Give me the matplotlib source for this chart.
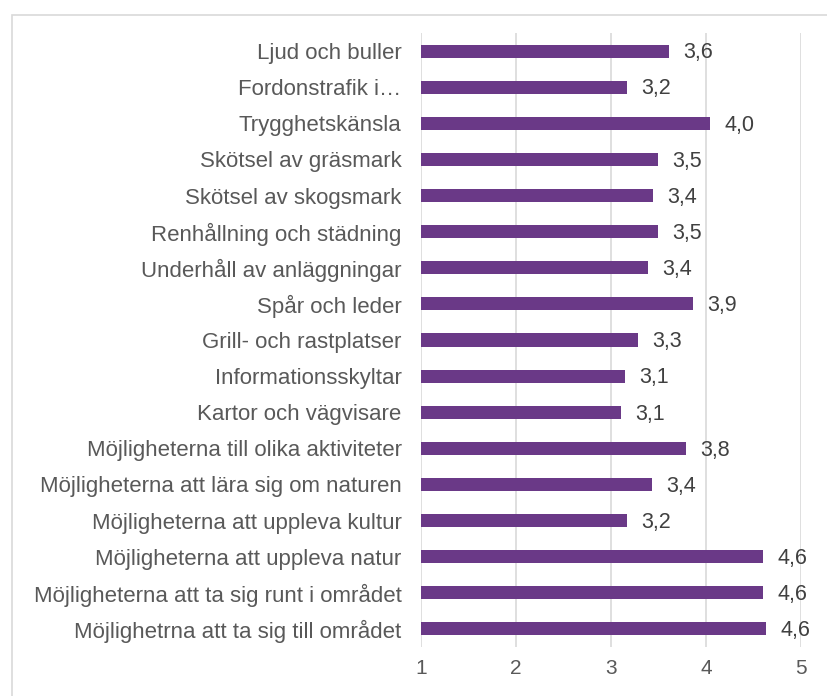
import matplotlib.pyplot as plt
from matplotlib.patches import Rectangle

plt.rcParams['font.family'] = ['Liberation Sans', 'DejaVu Sans']

# Categories listed from top to bottom
categories = [
    "Ljud och buller",
    "Fordonstrafik i\u2026",
    "Trygghetskänsla",
    "Skötsel av gräsmark",
    "Skötsel av skogsmark",
    "Renhållning och städning",
    "Underhåll av anläggningar",
    "Spår och leder",
    "Grill- och rastplatser",
    "Informationsskyltar",
    "Kartor och vägvisare",
    "Möjligheterna till olika aktiviteter",
    "Möjligheterna att lära sig om naturen",
    "Möjligheterna att uppleva kultur",
    "Möjligheterna att uppleva natur",
    "Möjligheterna att ta sig runt i området",
    "Möjlighetrna att ta sig till området",
]
values = [3.61, 3.17, 4.04, 3.49, 3.44, 3.49, 3.39, 3.86, 3.28, 3.15,
          3.10, 3.79, 3.43, 3.17, 4.60, 4.60, 4.63]
xticks = [1, 2, 3, 4, 5]

bar_color = "#6A3987"
text_color = "#595959"

fig = plt.figure(figsize=(8.28, 6.96), dpi=100)
# light frame around the chart area
fig.patches.append(Rectangle((12 / 828, -0.05), 1.0, 1 - 15 / 696 + 0.05,
                             transform=fig.transFigure, fill=False,
                             edgecolor="#D9D9D9", linewidth=1.2))

ax = fig.add_axes([421 / 828, 1 - 647 / 696, 380 / 828, 614 / 696])

pos = list(range(len(categories)))[::-1]
ax.barh(pos, [v - 1 for v in values], left=1, height=0.36, color=bar_color, zorder=3)

for p, v in zip(pos, values):
    ax.text(v + 0.15, p - 0.05, f"{v:.1f}".replace(".", ","), va="center", ha="left",
            fontsize=15.5, color="#404040")

ax.set_xlim(1, 5)
ax.set_ylim(-0.5, len(categories) - 0.5)
ax.set_xticks(xticks)
ax.set_xticklabels([str(t) for t in xticks], fontsize=15, color=text_color)
ax.set_yticks(pos)
ax.set_yticklabels(categories, fontsize=16, color=text_color)
ax.tick_params(axis="y", length=0, pad=14)
ax.tick_params(axis="x", length=0, pad=9)
ax.grid(axis="x", color="#D9D9D9", linewidth=1.2, zorder=0)
for s in ax.spines.values():
    s.set_visible(False)

fig.savefig("out.png", dpi=100)
